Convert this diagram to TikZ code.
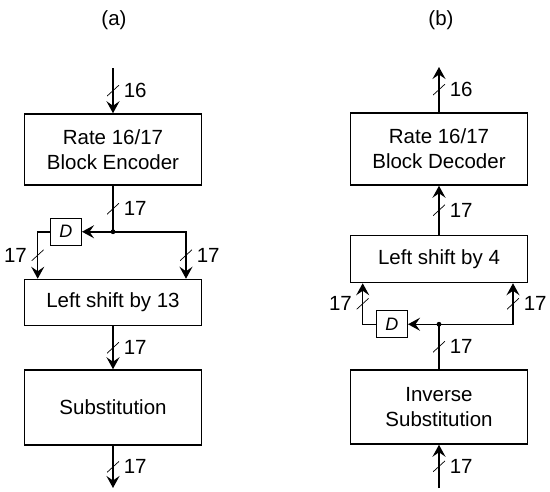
\documentclass[tikz,border=0pt]{standalone}
\usepackage{fontspec}
\setmainfont{Liberation Sans}
\usetikzlibrary{positioning,arrows.meta}

\begin{document}
\begin{tikzpicture}[x=1pt,y=-1pt,font=\fontsize{20.5}{25}\selectfont,
    bus/.style={minimum width=12pt, minimum height=11pt, inner sep=0pt,
      path picture={\draw[-, line width=0.7pt] (path picture bounding box.south west) -- (path picture bounding box.north east);}}]
	\tikzstyle{block}=[rectangle, draw=black, line width=1.5pt, minimum width=177pt, align=center]
	\tikzstyle{delay}=[rectangle, draw=black, line width=1.3pt, minimum width=31pt, minimum height=27pt, inner sep=0pt, font=\fontsize{18}{18}\selectfont\itshape]
	\tikzstyle{connect}=[-{Stealth[length=12pt,width=13pt,inset=4.5pt]}, line width=1.5pt]
	\tikzstyle{wire}=[line width=1.5pt]
	\useasboundingbox (0,0) rectangle (550,491);

	% (a) encoder chain
	\node (ta) at (114,20) {(a)};
	\node[block, minimum height=71pt] (enc) at (113,149.5) {Rate 16/17\\Block Encoder};
	\node[block, minimum height=46pt] (sh13) [below=93pt of enc] {Left shift by 13};
	\node[block, minimum height=75pt] (sub) [below=43pt of sh13] {Substitution};
	\coordinate (inA) at (113,68);
	\coordinate (outA) at (113,488);
	\coordinate (jA) at ([yshift=-46pt]enc.south);
	\node[delay] (dA) [left=31pt of jA] {D};
	\coordinate (bA1) at ([xshift=-12pt]dA.west);
	\coordinate (bA2) at ([xshift=73pt]jA);

	\path (inA) edge [connect] node[bus, label=right:16] {} (enc.north)
	(enc.south) edge [wire] node[bus, label=right:17] {} (jA)
	(jA) edge [connect] (dA.east)
	(sh13.south) edge [connect] node[bus, label=right:17] {} (sub.north)
	(sub.south) edge [connect] node[bus, label=right:17] {} (outA);
	\draw[connect] (dA.west) -- (bA1) -- node[bus, label=left:17] {} (bA1 |- sh13.north);
	\draw[connect] (jA) -- (bA2) -- node[bus, label=right:17] {} (bA2 |- sh13.north);
	\fill (jA) circle (2.4pt);

	% (b) decoder chain
	\node (tb) at (441,20) {(b)};
	\node[block, minimum height=72pt] (dec) at (439,149) {Rate 16/17\\Block Decoder};
	\node[block, minimum height=47pt] (sh4) [below=49pt of dec] {Left shift by 4};
	\node[block, minimum height=74pt] (inv) [below=86pt of sh4] {Inverse\\Substitution};
	\coordinate (outB) at (439,67);
	\coordinate (inB) at (439,488);
	\coordinate (jB) at ([yshift=-41pt]sh4.south);
	\node[delay] (dB) [left=31pt of jB] {D};
	\coordinate (bB1) at ([xshift=-13pt]dB.west);
	\coordinate (bB2) at ([xshift=74pt]jB);

	\path (dec.north) edge [connect] node[bus, label=right:16] {} (outB)
	(sh4.north) edge [connect] node[bus, label=right:17] {} (dec.south)
	(inv.north) edge [wire] node[bus, label=right:17] {} (jB)
	(jB) edge [connect] (dB.east)
	(inB) edge [connect] node[bus, label=right:17] {} (inv.south);
	\draw[connect] (dB.west) -- (bB1) -- node[bus, label=left:17] {} (bB1 |- sh4.south);
	\draw[connect] (jB) -- (bB2) -- node[bus, label=right:17] {} (bB2 |- sh4.south);
	\fill (jB) circle (2.4pt);
\end{tikzpicture}
\end{document}
